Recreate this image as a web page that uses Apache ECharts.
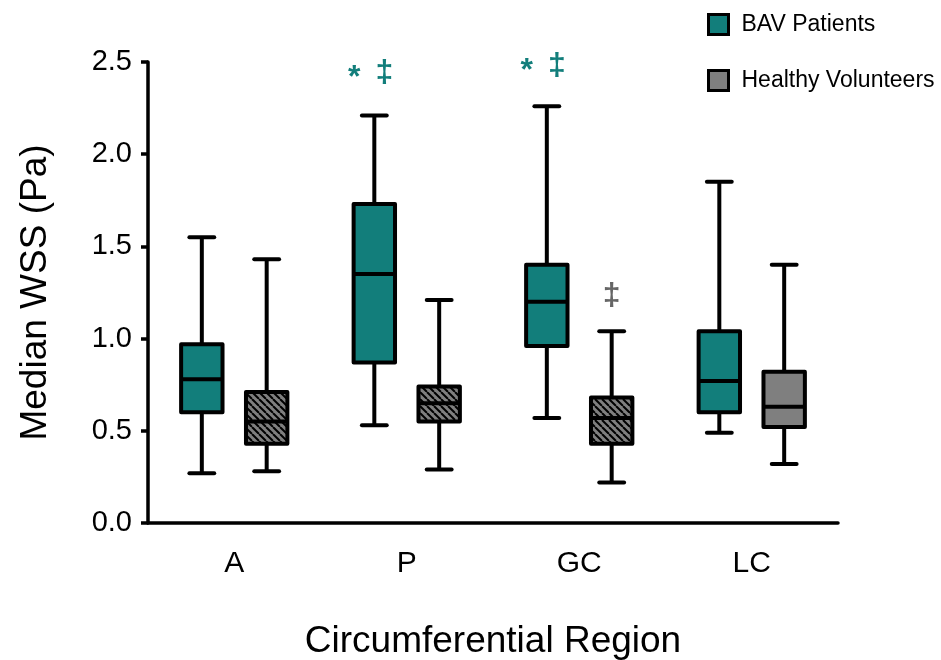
<!DOCTYPE html>
<html>
<head>
<meta charset="utf-8">
<script src="https://cdn.jsdelivr.net/npm/echarts@6/dist/echarts.min.js"></script>
<style>
  html, body { margin: 0; padding: 0; background: #fff; }
  #chart { width: 941px; height: 660px; }
</style>
</head>
<body>
<div id="chart"></div>
<script>
// categories on the x axis
var categories = ['A', 'P', 'GC', 'LC'];

// BAV patients: whisker min, Q1, median, Q3, whisker max
var bavMin    = [0.27, 0.53, 0.57, 0.49];
var bavQ1     = [0.60, 0.87, 0.96, 0.60];
var bavMedian = [0.78, 1.35, 1.20, 0.77];
var bavQ3     = [0.97, 1.73, 1.40, 1.04];
var bavMax    = [1.55, 2.21, 2.26, 1.85];

// healthy volunteers
var hvMin    = [0.28, 0.29, 0.22, 0.32];
var hvQ1     = [0.43, 0.55, 0.43, 0.52];
var hvMedian = [0.55, 0.65, 0.57, 0.63];
var hvQ3     = [0.71, 0.74, 0.68, 0.82];
var hvMax    = [1.43, 1.21, 1.04, 1.40];
var hvHatched = [1, 1, 1, 0];

// significance marks: category, group (0 BAV, 1 HV), y position, text
var markCat   = [1, 2, 2];
var markGroup = [0, 0, 1];
var markY     = [2.44, 2.48, 1.23];
var markText  = ['* ‡', '* ‡', '‡'];

var yTicks = [0, 0.5, 1.0, 1.5, 2.0, 2.5];

var TEAL = '#127e7b';
var GREY = '#7f7f7f';
var MARK_GREY = '#666666';

//斜线填充
function hatchPattern(){
  var s = 7;
  var cv = document.createElement('canvas');
  cv.width = s; cv.height = s;
  var ctx = cv.getContext('2d');
  ctx.fillStyle = GREY;
  ctx.fillRect(0, 0, s, s);
  ctx.strokeStyle = '#000';
  ctx.lineWidth = 2;
  for (var k = -1; k <= 1; k++) {
    ctx.beginPath();
    ctx.moveTo(k * s, 0);
    ctx.lineTo(k * s + s, s);
    ctx.stroke();
  }
  return { image: cv, repeat: 'repeat' };
}
var hatch = hatchPattern();

function rows(mn, q1, md, q3, mx, flag){
  var out = [];
  for (var i = 0; i < categories.length; i++) {
    out.push([i, mn[i], q1[i], md[i], q3[i], mx[i], flag ? flag[i] : 0]);
  }
  return out;
}

//箱线图绘制
function boxRenderer(offset, color){
  return function(params, api){
    var c = api.value(0);
    var band = api.size([1, 0])[0];
    var x = api.coord([c, 0])[0] + offset * band;
    var yMin = api.coord([c, api.value(1)])[1];
    var yQ1 = api.coord([c, api.value(2)])[1];
    var yMed = api.coord([c, api.value(3)])[1];
    var yQ3 = api.coord([c, api.value(4)])[1];
    var yMax = api.coord([c, api.value(5)])[1];
    var hw = band * 0.12;
    var cw = band * 0.072;
    var line = { stroke: '#000', lineWidth: 4 };
    var cap = { stroke: '#000', lineWidth: 4, lineCap: 'round' };
    var fill = api.value(6) ? hatch : color;
    return {
      type: 'group',
      children: [
        { type: 'line', shape: { x1: x, y1: yMax, x2: x, y2: yQ3 }, style: line },
        { type: 'line', shape: { x1: x, y1: yQ1, x2: x, y2: yMin }, style: line },
        { type: 'line', shape: { x1: x - cw, y1: yMax, x2: x + cw, y2: yMax }, style: cap },
        { type: 'line', shape: { x1: x - cw, y1: yMin, x2: x + cw, y2: yMin }, style: cap },
        { type: 'rect', shape: { x: x - hw, y: yQ3, width: hw * 2, height: yQ1 - yQ3 },
          style: { fill: fill, stroke: '#000', lineWidth: 4, lineJoin: 'round' } },
        { type: 'line', shape: { x1: x - hw, y1: yMed, x2: x + hw, y2: yMed }, style: line }
      ]
    };
  };
}

var marks = [];
for (var m = 0; m < markCat.length; m++) {
  marks.push([markCat[m], markY[m], markGroup[m], markText[m]]);
}

function markRenderer(params, api){
  var c = api.value(0);
  var g = api.value(2);
  var band = api.size([1, 0])[0];
  var pt = api.coord([c, api.value(1)]);
  var x = pt[0] + (g ? 0.188 : -0.188) * band;
  var txt = marks[params.dataIndex][3];
  var color = g ? MARK_GREY : TEAL;
  var font = 'bold 32px "Liberation Sans", Arial';
  var kids = [];
  if (txt.indexOf('*') >= 0) {
    kids.push({ type: 'text', x: x - 20, y: pt[1] + 5,
      style: { text: '*', fill: color, font: font, align: 'center', verticalAlign: 'middle' } });
    kids.push({ type: 'text', x: x + 10, y: pt[1],
      style: { text: '‡', fill: color, font: font, align: 'center', verticalAlign: 'middle' } });
  } else {
    kids.push({ type: 'text', x: x, y: pt[1],
      style: { text: '‡', fill: color, font: font, align: 'center', verticalAlign: 'middle' } });
  }
  return { type: 'group', children: kids };
}

var chart = echarts.init(document.getElementById('chart'));
var option = {
  backgroundColor: '#fff',
  animation: false,
  textStyle: { fontFamily: '"Liberation Sans", Arial, sans-serif', color: '#000' },
  legend: {
    orient: 'vertical',
    left: 707,
    top: 13,
    padding: 0,
    itemWidth: 20,
    itemHeight: 20,
    itemGap: 33,
    selectedMode: false,
    textStyle: { fontSize: 23, color: '#000', padding: [0, 0, 0, 8] },
    data: [
      { name: 'BAV Patients', icon: 'rect', itemStyle: { color: TEAL, borderColor: '#000', borderWidth: 3 } },
      { name: 'Healthy Volunteers', icon: 'rect', itemStyle: { color: GREY, borderColor: '#000', borderWidth: 3 } }
    ]
  },
  grid: { left: 148, right: 103, top: 62, bottom: 137, outerBoundsMode: 'none' },
  xAxis: {
    type: 'category',
    data: categories,
    boundaryGap: true,
    name: 'Circumferential Region',
    nameLocation: 'middle',
    nameGap: 100,
    nameTextStyle: { fontSize: 37, color: '#000' },
    axisLine: { lineStyle: { color: '#000', width: 3.5 } },
    axisTick: { alignWithLabel: true, length: 7, lineStyle: { color: '#000', width: 3.5 } },
    axisLabel: { fontSize: 30, color: '#000', margin: 26 },
    splitLine: { show: false }
  },
  yAxis: {
    type: 'value',
    min: 0,
    max: 2.5,
    interval: 0.5,
    name: 'Median WSS (Pa)',
    nameLocation: 'middle',
    nameRotate: 90,
    nameGap: 94,
    nameTextStyle: { fontSize: 37, color: '#000' },
    axisLine: { show: true, lineStyle: { color: '#000', width: 3.5 } },
    axisTick: { show: true, length: 7, lineStyle: { color: '#000', width: 3.5 } },
    axisLabel: {
      fontSize: 29, color: '#000', margin: 16,
      formatter: function(v){ return yTicks.indexOf(v) >= 0 ? v.toFixed(1) : ''; }
    },
    splitLine: { show: false }
  },
  series: [
    {
      name: 'BAV Patients',
      type: 'custom',
      itemStyle: { color: TEAL },
      renderItem: boxRenderer(-0.188, TEAL),
      encode: { x: 0, y: [1, 2, 3, 4, 5] },
      data: rows(bavMin, bavQ1, bavMedian, bavQ3, bavMax, null)
    },
    {
      name: 'Healthy Volunteers',
      type: 'custom',
      itemStyle: { color: GREY },
      renderItem: boxRenderer(0.188, GREY),
      encode: { x: 0, y: [1, 2, 3, 4, 5] },
      data: rows(hvMin, hvQ1, hvMedian, hvQ3, hvMax, hvHatched)
    },
    {
      name: 'marks',
      type: 'custom',
      renderItem: markRenderer,
      encode: { x: 0, y: 1 },
      data: marks
    }
  ]
};
chart.setOption(option);
</script>
</body>
</html>
